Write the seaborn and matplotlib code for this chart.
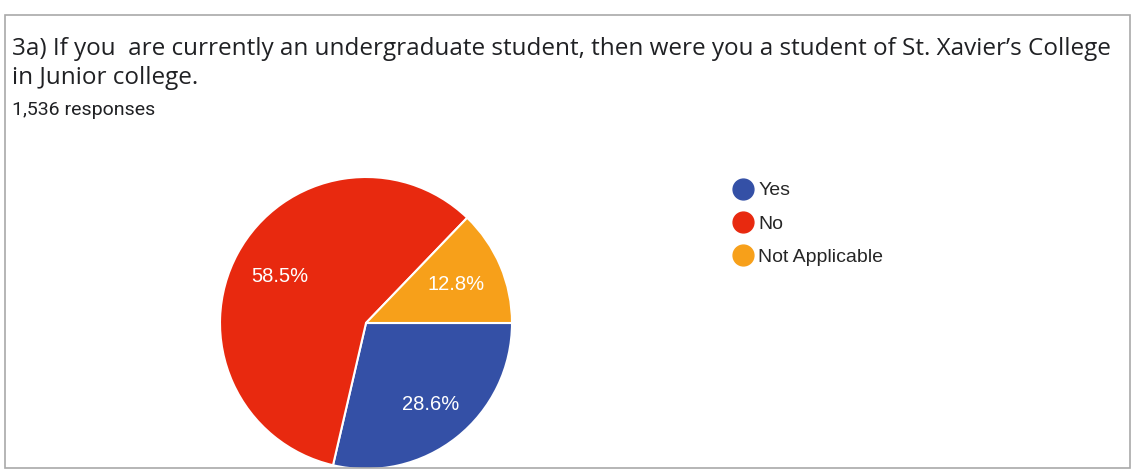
import numpy as np
import seaborn as sns
import matplotlib
matplotlib.use('Agg')
import matplotlib.pyplot as plt
from matplotlib.patches import Rectangle
from matplotlib.lines import Line2D

# data
labels = ["Yes", "No", "Not Applicable"]
shares = [28.6, 58.5, 12.8]
colors = ["#3450a6", "#e8290f", "#f7a01a"]
label_dist = [0.71, 0.67, 0.67]

title = ("3a) If you  are currently an undergraduate student, then were you a student of St. Xavier\u2019s College\n"
         "in Junior college.")
subtitle = "1,536 responses"

sns.set_theme(style="white")
plt.rcParams['font.family'] = ['Liberation Sans', 'DejaVu Sans']

W, H = 1136, 475
fig = plt.figure(figsize=(W / 100, H / 100), dpi=100)
fig.patch.set_facecolor("white")

# card border
fig.add_artist(Rectangle((5 / W, 1 - 468 / H), 1125 / W, 453 / H,
                         transform=fig.transFigure, fill=False,
                         edgecolor="#a9a9a9", linewidth=1.2))

fig.text(12 / W, 1 - 37 / H, title, fontsize=17.5, family=['Open Sans', 'DejaVu Sans'],
         color="#202124", va="top", ha="left", linespacing=1.28)
fig.text(12 / W, 1 - 110 / H, subtitle, fontsize=14, family=['Roboto', 'DejaVu Sans'],
         color="#202124", va="center", ha="left")

# pie axes: centre (366, 323), radius 146 px
cx, cy, r = 366, 323, 146
ax = fig.add_axes([(cx - r) / W, 1 - (cy + r) / H, 2 * r / W, 2 * r / H])
wedges, _ = ax.pie(shares, colors=colors, startangle=0, counterclock=False,
                   wedgeprops=dict(edgecolor="white", linewidth=1.5))
for w, s, d in zip(wedges, shares, label_dist):
    ang = np.deg2rad((w.theta1 + w.theta2) / 2)
    ax.text(d * np.cos(ang), d * np.sin(ang), f"{s}%", color="white",
            fontsize=14.5, ha="center", va="center")
ax.set_xlim(-1, 1)
ax.set_ylim(-1, 1)
ax.set_aspect("equal")
ax.axis("off")

handles = [Line2D([0], [0], marker="o", linestyle="", markersize=15,
                  markerfacecolor=c, markeredgecolor=c) for c in colors]
fig.legend(handles, labels, loc="upper left", bbox_to_anchor=(725 / W, 1 - 174 / H),
           frameon=False, fontsize=14, handletextpad=0.3, labelspacing=0.8,
           handlelength=1.0, borderaxespad=0)

fig.savefig("out.png", dpi=100)
